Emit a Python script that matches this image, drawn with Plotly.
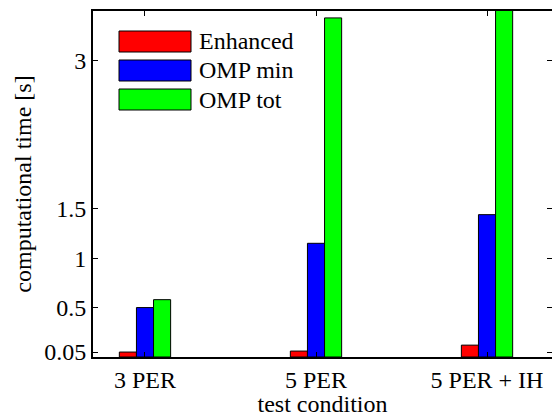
import plotly.graph_objects as go

# ---- data ----
categories = ["3 PER", "5 PER", "5 PER + IH"]
series_names = ["Enhanced", "OMP min", "OMP tot"]
enhanced = [0.05, 0.06, 0.12]
omp_min = [0.50, 1.15, 1.44]
omp_tot = [0.58, 3.43, 4.00]
y_ticks = [0.05, 0.5, 1, 1.5, 3]
y_tick_labels = ["0.05", "0.5", "1", "1.5", "3"]
colors = ["#ff0000", "#0000ff", "#00ff00"]

positions = [1, 2, 3]
values = [enhanced, omp_min, omp_tot]

FONT = "Times New Roman, Liberation Serif, DejaVu Serif, serif"
FS = 24
W, H = 552, 417
L, T, B = 93, 11, 60  # margins (px)
R = 0
plot_w = W - L - R
plot_h = H - T - B

fig = go.Figure()
for name, vals, col in zip(series_names, values, colors):
    fig.add_trace(go.Bar(
        x=positions, y=vals, name=name,
        marker=dict(color=col, line=dict(color="black", width=1)),
        showlegend=False,
    ))

# invisible trace to host right-side ticks
fig.add_trace(go.Scatter(x=[positions[0]], y=[0], yaxis="y2", mode="markers",
                         marker=dict(opacity=0), showlegend=False, hoverinfo="skip"))

fig.update_layout(
    width=W, height=H,
    margin=dict(l=L, r=R, t=T, b=B, pad=0),
    paper_bgcolor="white", plot_bgcolor="white",
    barmode="group", bargap=0.7, bargroupgap=0,
    font=dict(family=FONT, size=FS, color="black"),
    xaxis=dict(
        range=[0.696, 3.38], tickvals=positions, ticktext=categories,
        ticks="inside", ticklen=5, tickcolor="black", tickwidth=1,
        showline=True, linecolor="black", linewidth=2, mirror="ticks",
        showgrid=False, zeroline=False,
        title=dict(text="test condition", font=dict(family=FONT, size=FS), standoff=1),
        tickfont=dict(family=FONT, size=FS),
    ),
    yaxis=dict(
        range=[0, 3.5], tickvals=y_ticks, ticktext=y_tick_labels,
        ticks="inside", ticklen=5, tickcolor="black", tickwidth=1,
        showline=True, linecolor="black", linewidth=2, mirror=False,
        showgrid=False, zeroline=False,
        title=dict(text="computational time [s]", font=dict(family=FONT, size=FS), standoff=6),
        tickfont=dict(family=FONT, size=FS),
    ),
    yaxis2=dict(
        overlaying="y", side="right", matches="y", range=[0, 3.5],
        tickvals=y_ticks, showticklabels=False,
        ticks="inside", ticklen=5, tickcolor="black", tickwidth=1,
        showline=False, showgrid=False, zeroline=False,
    ),
)

# custom legend (MATLAB style wide swatches), positioned in paper coords
def px_x(p):
    return (p - L) / plot_w

def px_y(p):
    return (H - B - p) / plot_h

box_x0, box_x1 = 119, 191
text_x = 197
row_tops = [31, 60, 89]
box_h = 21
for name, col, top in zip(series_names, colors, row_tops):
    fig.add_shape(type="rect", xref="paper", yref="paper",
                  x0=px_x(box_x0), x1=px_x(box_x1),
                  y0=px_y(top + box_h), y1=px_y(top),
                  fillcolor=col, line=dict(color="black", width=1))
    fig.add_annotation(xref="paper", yref="paper",
                       x=px_x(text_x), y=px_y(top + box_h / 2),
                       text=name, showarrow=False, xanchor="left", yanchor="middle",
                       font=dict(family=FONT, size=FS, color="black"))

fig.write_html("out.html", config={"displayModeBar": False},
               post_script="document.body.style.margin='0';")
